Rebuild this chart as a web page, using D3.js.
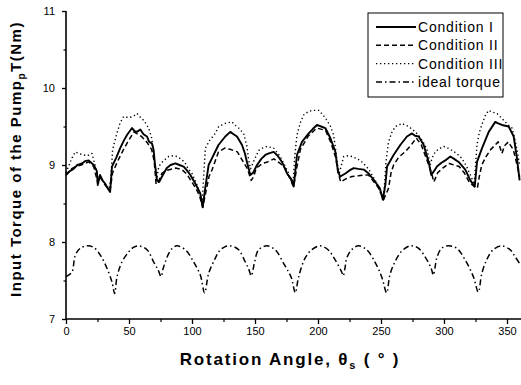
<!DOCTYPE html>
<html><head><meta charset="utf-8">
<script src="https://cdn.jsdelivr.net/npm/d3@7"></script>
<style>body{margin:0;background:#fff}svg{display:block}text{font-family:Arial,"Liberation Sans",Helvetica,sans-serif;fill:#000}</style>
</head><body><svg id="c" width="521" height="385"></svg>
<script>
const xTicks = [0,50,100,150,200,250,300,350];
const yTicks = [7,8,9,10,11];
const seriesNames = ["Condition I","Condition II","Condition III","ideal torque"];

const cond1 = [[0,8.87],[3,8.92],[6,8.95],[9,9.0],[12.7,9.02],[15,9.05],[18,9.06],[22,9.0],[24.5,8.92],[25.2,8.74],[27,8.87],[29,8.8],[31,8.76],[33,8.7],[35,8.65],[36.5,8.98],[40,9.1],[43,9.22],[46,9.32],[48.4,9.39],[52.4,9.48],[54.5,9.44],[56.3,9.43],[59,9.46],[61.5,9.4],[64.3,9.37],[66,9.3],[68.2,9.28],[69.5,9.2],[70.4,9.04],[72.2,8.80],[74,8.78],[76.2,8.85],[80,8.96],[83,9.0],[86.8,9.02],[90,9.0],[93.4,8.98],[96,8.93],[98.7,8.87],[102.6,8.76],[106.6,8.63],[108.5,8.45],[110.5,8.7],[113.2,9.0],[115.9,9.09],[121,9.26],[126.4,9.37],[130.4,9.43],[133,9.4],[135.7,9.37],[139.7,9.26],[142,9.15],[143.6,9.04],[146.3,8.87],[148.5,8.9],[151.6,9.0],[155,9.08],[158.2,9.13],[161,9.15],[164.8,9.17],[168,9.12],[171.4,9.04],[175.4,8.89],[179.4,8.80],[180.7,8.72],[183.3,9.13],[187.3,9.30],[192.6,9.41],[196,9.47],[199.2,9.52],[202.5,9.5],[205.8,9.48],[209.8,9.35],[213.8,9.17],[215.9,8.91],[217.7,8.85],[221.7,8.89],[225,8.93],[228.3,8.96],[232,8.95],[236.3,8.94],[240.2,8.89],[245.5,8.78],[249,8.7],[251.5,8.55],[253.5,8.75],[254.8,8.98],[260,9.13],[265.3,9.26],[270.6,9.37],[274.6,9.41],[277,9.38],[279.9,9.37],[283.9,9.26],[287.8,9.04],[289.9,8.87],[292,8.92],[294.4,8.98],[298,9.03],[301,9.06],[305,9.11],[308,9.08],[311.6,9.04],[316.9,8.94],[320.9,8.80],[324.4,8.72],[326.2,9.04],[330.2,9.22],[335.5,9.43],[340.7,9.56],[343,9.54],[346,9.52],[351.3,9.50],[355.3,9.37],[357.9,9.09],[360,8.8]];

const cond2 = [[0,8.87],[4,8.95],[8,8.98],[12,9.0],[18,9.04],[22,8.98],[25,8.78],[27,8.85],[31,8.74],[35,8.67],[37,8.9],[41,9.05],[45,9.18],[49,9.3],[54,9.43],[57,9.4],[60,9.37],[64,9.3],[68,9.2],[70,9.05],[71.5,8.75],[73,8.77],[76,8.89],[80,8.93],[87,8.96],[92,8.94],[96,8.88],[99,8.80],[103,8.7],[106,8.6],[108.5,8.45],[111,8.65],[113.5,8.85],[116,8.94],[121,9.17],[126,9.22],[131,9.2],[136,9.17],[140,9.06],[144,8.95],[147,8.8],[149,8.85],[151,8.96],[156,9.02],[160,9.04],[165,9.08],[170,9.02],[173,8.98],[177,8.85],[180.7,8.72],[183,8.95],[186,9.2],[192,9.37],[199,9.48],[206,9.45],[210,9.3],[214,9.1],[216,8.9],[218,8.78],[222,8.82],[227,8.85],[232,8.86],[236,8.87],[240,8.87],[245,8.77],[249,8.68],[252,8.55],[254,8.62],[256,8.7],[258,8.9],[260,9.0],[264,9.1],[269,9.17],[274,9.26],[278,9.35],[282,9.26],[287,9.04],[290,8.9],[292,8.78],[295,8.9],[299,8.96],[304,9.02],[308,9.0],[312,8.98],[316,8.9],[320,8.78],[324,8.72],[326.5,8.7],[328,8.85],[330,9.0],[333,9.1],[337,9.2],[340,9.25],[343,9.3],[346,9.15],[348,9.25],[351,9.3],[355,9.2],[358,9.0],[360,8.85]];

const cond3 = [[0,8.9],[2,8.98],[5,9.1],[7.4,9.17],[10,9.15],[14,9.13],[17,9.12],[20.6,9.15],[23,9.0],[25,8.85],[28,8.82],[31,8.75],[34,8.68],[35.5,8.8],[37,9.2],[40,9.39],[43,9.55],[45.8,9.63],[48,9.62],[51,9.62],[54,9.64],[56.3,9.67],[59,9.62],[61.7,9.58],[65.6,9.48],[68,9.35],[70,9.1],[72,8.82],[73.6,8.98],[77,9.05],[81.5,9.11],[85,9.12],[88,9.11],[91,9.08],[94,9.04],[97,8.95],[100,8.89],[103,8.78],[106,8.65],[108,8.5],[110.6,9.22],[114,9.32],[118.5,9.41],[121.2,9.50],[126.4,9.54],[131.7,9.56],[134,9.52],[137,9.48],[141,9.41],[143.5,9.25],[145,9.06],[146.5,8.95],[149,9.05],[153,9.19],[156,9.22],[159.5,9.24],[164.8,9.22],[170,9.11],[173.5,9.0],[176.7,8.89],[180,8.72],[181.5,9.1],[183.3,9.39],[186,9.55],[188.6,9.65],[192,9.69],[195.2,9.71],[200.5,9.71],[204,9.65],[207.1,9.58],[210,9.5],[212.4,9.39],[214,9.2],[215.5,9.0],[217,8.9],[220.4,9.11],[224,9.12],[227,9.11],[233.6,9.06],[236,9.02],[240,8.95],[243,8.87],[247,8.75],[250,8.62],[252,8.55],[254,9.05],[256,9.30],[258.5,9.42],[261.4,9.50],[266.7,9.54],[269,9.52],[272,9.50],[277.2,9.43],[280,9.38],[283.5,9.30],[286.5,9.2],[289.1,9.0],[290.5,9.09],[293,9.17],[296,9.21],[299.8,9.24],[303,9.22],[306.3,9.19],[310,9.15],[314,9.09],[318,8.98],[322,8.83],[324,8.75],[325,9.0],[326.2,9.26],[328,9.42],[330,9.52],[333,9.65],[335.5,9.71],[338,9.69],[342,9.67],[347.4,9.58],[351,9.52],[354,9.48],[356,9.35],[358,9.19],[360,9.0]];

const ideal = [[0,7.55],[2,7.57],[4.8,7.61],[7.4,7.83],[11.4,7.92],[16.7,7.95],[22,7.93],[27.2,7.83],[32.5,7.66],[36.5,7.48],[38.6,7.33],[40.5,7.55],[44.4,7.74],[49.7,7.87],[53.5,7.93],[57.7,7.95],[64.3,7.90],[69.6,7.74],[73,7.64],[75.5,7.55],[77,7.65],[78.8,7.74],[81.5,7.85],[84.5,7.92],[88,7.95],[94.7,7.90],[101.3,7.74],[106.6,7.57],[110,7.34],[113.2,7.59],[118.5,7.79],[122,7.89],[126.4,7.94],[129,7.95],[133,7.94],[137,7.90],[142.3,7.74],[145,7.65],[147,7.56],[148.5,7.65],[149.7,7.74],[152.9,7.90],[159.5,7.95],[166,7.90],[172.8,7.72],[176.7,7.61],[179,7.53],[182,7.34],[184,7.5],[185.7,7.61],[189.7,7.79],[195,7.90],[201.6,7.95],[208,7.90],[213.5,7.77],[218.8,7.61],[220,7.56],[221.5,7.67],[222.8,7.79],[226.7,7.90],[232,7.95],[238.6,7.90],[245.2,7.74],[250.5,7.55],[254.5,7.34],[257,7.57],[261,7.74],[266.4,7.88],[273,7.95],[279.6,7.92],[286.3,7.77],[290,7.65],[291.5,7.57],[293,7.68],[294.2,7.79],[298.2,7.92],[303.4,7.95],[310,7.92],[316.7,7.77],[323.3,7.55],[327.2,7.35],[330,7.59],[333.9,7.77],[339,7.90],[345.8,7.95],[352.4,7.90],[356,7.82],[360,7.72]];

const svg = d3.select("#c");
const L = 66, R = 519.6, T = 11, B = 319;
const x = d3.scaleLinear().domain([0,360]).range([L,R]);
const y = d3.scaleLinear().domain([7,11]).range([B,T]);

// axes
const xAxis = d3.axisBottom(x).tickValues(xTicks).tickSize(5).tickPadding(3).tickFormat(d3.format("d"));
const gx = svg.append("g").attr("transform",`translate(0,${B})`).call(xAxis);
gx.select(".domain").attr("stroke-width",1.6).attr("d",`M${L},0H521`);
gx.selectAll(".tick line").attr("stroke-width",1.3);
gx.selectAll("text").attr("font-size",11).attr("font-family","Arial");
svg.append("g").attr("transform",`translate(0,${B})`)
  .call(d3.axisBottom(x).tickValues(d3.range(25,360,50)).tickSize(3).tickFormat(""))
  .call(g=>{g.select(".domain").remove(); g.selectAll("line").attr("stroke-width",1.2);});

const yAxis = d3.axisLeft(y).tickValues(yTicks).tickSize(4).tickPadding(7).tickFormat(d3.format("d"));
const gy = svg.append("g").attr("transform",`translate(${L},0)`).call(yAxis);
gy.select(".domain").attr("stroke-width",1.6).attr("d",`M0,${T}V${B}`);
gy.selectAll(".tick line").attr("stroke-width",1.3);
gy.selectAll("text").attr("font-size",11).attr("font-family","Arial");
svg.append("g").attr("transform",`translate(${L},0)`)
  .call(d3.axisLeft(y).tickValues([7.5,8.5,9.5,10.5]).tickSize(2.5).tickFormat(""))
  .call(g=>{g.select(".domain").remove(); g.selectAll("line").attr("stroke-width",1.2);});

// lines
const lineLin = d3.line().x(d=>x(d[0])).y(d=>y(d[1])).curve(d3.curveLinear);
const lineSmooth = d3.line().x(d=>x(d[0])).y(d=>y(d[1])).curve(d3.curveCatmullRom.alpha(0.5));
const styles = [
  {data:cond1, w:1.9, dash:null, gen:lineLin},
  {data:cond2, w:1.5, dash:"5,3", gen:lineLin},
  {data:cond3, w:1.4, dash:"1.3,2.7", gen:lineLin},
  {data:ideal, w:1.5, dash:"6,3,1.5,3", gen:lineSmooth}
];
styles.forEach(s=>{
  svg.append("path").attr("d",s.gen(s.data)).attr("fill","none").attr("stroke","#000")
    .attr("stroke-width",s.w).attr("stroke-dasharray",s.dash).attr("stroke-linejoin","round");
});

// legend
const lg = svg.append("g");
lg.append("rect").attr("x",368).attr("y",13).attr("width",135).attr("height",84)
  .attr("fill","#fff").attr("stroke","#000").attr("stroke-width",1);
seriesNames.forEach((n,i)=>{
  const yy = 27 + i*18.3;
  lg.append("line").attr("x1",376).attr("x2",416).attr("y1",yy).attr("y2",yy)
    .attr("stroke","#000").attr("stroke-width",styles[i].w).attr("stroke-dasharray",styles[i].dash);
  lg.append("text").attr("x",418).attr("y",yy+5).attr("font-size",14).attr("letter-spacing",0.8).text(n);
});

// axis titles
const xt = svg.append("text").attr("x",290).attr("y",365).attr("text-anchor","middle")
  .attr("font-size",17).attr("font-weight","bold").attr("letter-spacing",1.8);
xt.append("tspan").text("Rotation Angle, θ");
xt.append("tspan").attr("font-size",11).attr("dy",4).text("s");
xt.append("tspan").attr("dy",-4).text(" ( ° )");

const yt = svg.append("text").attr("transform","translate(21,159) rotate(-90)").attr("text-anchor","middle")
  .attr("font-size",15).attr("font-weight","bold").attr("letter-spacing",1.5);
yt.append("tspan").text("Input Torque of the Pump");
yt.append("tspan").attr("font-size",10).attr("dy",4).text("p");
yt.append("tspan").attr("dy",-4).text("T(Nm)");
</script></body></html>
